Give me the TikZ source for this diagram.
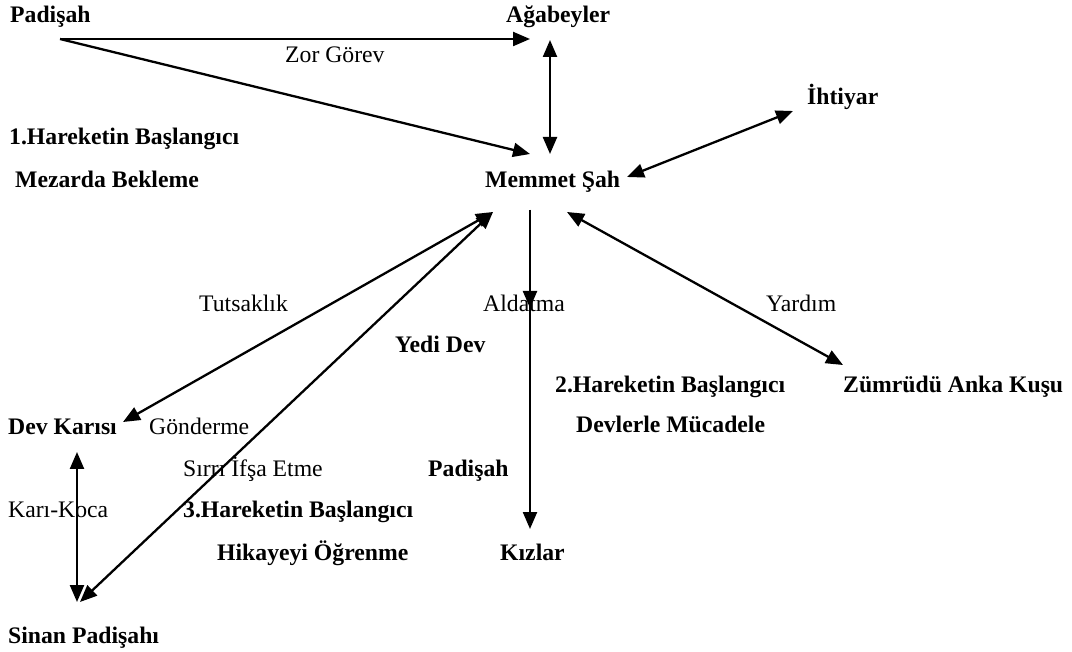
\documentclass[tikz,border=0pt]{standalone}
\usepackage{fontspec}
\setmainfont{Liberation Serif}
\usetikzlibrary{arrows.meta}

\begin{document}
\begin{tikzpicture}[x=1pt,y=-1pt,
  every node/.style={anchor=base west,inner sep=0pt,font=\fontsize{23.7}{28}\selectfont},
  actor/.style={font=\fontsize{23.7}{28}\selectfont\bfseries},
  arr/.style={-{Triangle[length=17pt,width=14pt]},line width=2.3pt},
  darr/.style={{Triangle[length=17pt,width=14pt]}-{Triangle[length=17pt,width=14pt]},line width=2.3pt}]
\useasboundingbox (0,0) rectangle (1072,652);

% persons
\node[actor] (pad1) at (10,23) {Padişah};
\node[actor] (abi) at (506,23) {Ağabeyler};
\node[actor] (ihtiyar) at (807,105) {İhtiyar};
\node[actor] (memmet) at (485,188) {Memmet Şah};
\node[actor] (yedi) at (395,353) {Yedi Dev};
\node[actor] (zumrud) at (843,393) {Zümrüdü Anka Kuşu};
\node[actor] (devk) at (8,435) {Dev Karısı};
\node[actor] (pad2) at (428,477) {Padişah};
\node[actor] (kizlar) at (500,560) {Kızlar};
\node[actor] (sinan) at (8,643) {Sinan Padişahı};

% stages
\node[actor] (har1) at (9,145) {1.Hareketin Başlangıcı};
\node[actor] (mezar) at (15,188) {Mezarda Bekleme};
\node[actor] (har2) at (555,393) {2.Hareketin Başlangıcı};
\node[actor] (devler) at (576,433) {Devlerle Mücadele};
\node[actor] (har3) at (183,518) {3.Hareketin Başlangıcı};
\node[actor] (hikaye) at (217,560) {Hikayeyi Öğrenme};

% relations
\node (zor) at (285,63) {Zor Görev};
\node (tutsak) at (199,312) {Tutsaklık};
\node (aldatma) at (483,312) {Aldatma};
\node (yardim) at (766,312) {Yardım};
\node (gonder) at (149,435) {Gönderme};
\node (sirri) at (183,477) {Sırrı İfşa Etme};
\node (karikoca) at (8,518) {Karı-Koca};

\draw[arr] ([shift={(50,16)}]pad1.base west) -- ([shift={(24,16)}]abi.base west);
\draw[arr] ([shift={(50,16)}]pad1.base west) -- ([shift={(45,-34)}]memmet.base west);
\draw[darr] ([shift={(44,17)}]abi.base west) -- ([shift={(65,-34)}]memmet.base west);
\draw[darr] ([shift={(142,-11)}]memmet.base west) -- ([shift={(-14,6)}]ihtiyar.base west);
\draw[darr] ([shift={(82,24)}]memmet.base west) -- ([shift={(0,-28)}]zumrud.base west);
\draw[darr] ([shift={(8,24)}]memmet.base west) -- ([shift={(115,-13)}]devk.base west);
\draw[darr] ([shift={(8,24)}]memmet.base west) -- ([shift={(72,-41)}]sinan.base west);
\draw[arr] ([shift={(45,22)}]memmet.base west) -- ([shift={(135,-45)}]yedi.base west);
\draw[arr] ([shift={(45,22)}]memmet.base west) -- ([shift={(30,-31)}]kizlar.base west);
\draw[darr] ([shift={(69,17)}]devk.base west) -- ([shift={(69,-41)}]sinan.base west);
\end{tikzpicture}
\end{document}
